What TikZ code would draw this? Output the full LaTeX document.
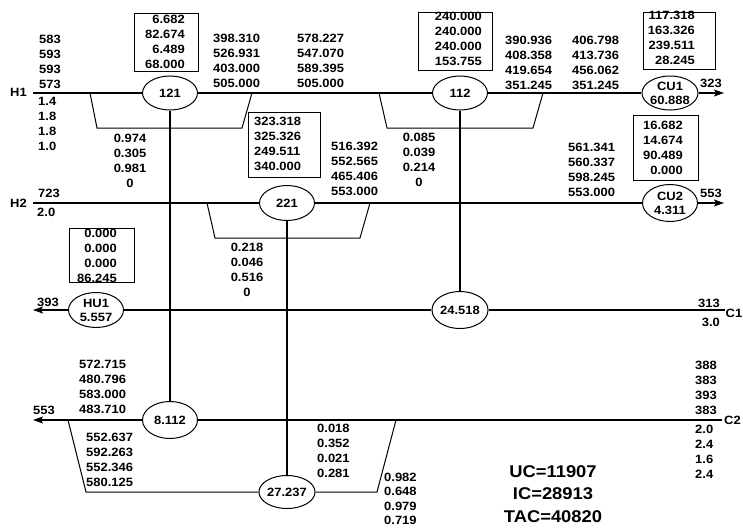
\documentclass[tikz,border=0pt]{standalone}
\usepackage{fontspec}
\setmainfont{Liberation Sans}[FakeStretch=1.08]
\usetikzlibrary{shapes.geometric,arrows.meta}
\begin{document}
\begin{tikzpicture}[x=1pt,y=-1pt,
  every node/.style={inner sep=0pt, font=\bfseries\fontsize{12}{15}\selectfont},
  ex/.style={draw, ellipse, line width=1pt, minimum width=55pt, minimum height=34pt, align=center, font=\bfseries\fontsize{12}{14}\selectfont},
  bx/.style={draw, line width=0.6pt, rectangle},
  main/.style={line width=1.3pt},
  byp/.style={line width=1pt},
  arr/.style={-{Stealth[length=10pt,width=7pt,inset=2pt]}},
  cost/.style={align=center, font=\bfseries\fontsize{17}{22.5}\selectfont}
]
\useasboundingbox (0,0) rectangle (743,527);

% ---- stream ends
\coordinate (h1s) at (33,93);  \coordinate (h1e) at (724,93);
\coordinate (h2s) at (33,203); \coordinate (h2e) at (724,203);
\coordinate (c1s) at (725,310); \coordinate (c1e) at (33,310);
\coordinate (c2s) at (722,420); \coordinate (c2e) at (33,420);

% ---- exchangers and utilities
\node[ex] (e121) at (170,93) {121};
\node[ex] (e112) at (460,93) {112};
\node[ex] (eCU1) at (670,93) {CU1\\60.888};
\node[ex, minimum height=35pt] (e221) at (287,203) {221};
\node[ex, minimum height=37pt] (eCU2) at (670,203) {CU2\\4.311};
\node[ex, minimum height=35pt] (eHU1) at (96,310) {HU1\\5.557};
\node[ex, minimum height=37pt] (e24) at (460,310) {24.518};
\node[ex, minimum height=37pt] (e8) at (170,420) {8.112};
\node[ex, minimum height=33pt] (e27) at (287,492) {27.237};

% ---- main stream lines
\draw[main] (h1s) -- (e121) -- (e112) -- (eCU1);
\draw[main,arr] (eCU1) -- (h1e);
\draw[main] (h2s) -- (e221) -- (eCU2);
\draw[main,arr] (eCU2) -- (h2e);
\draw[main] (c1s) -- (e24) -- (eHU1);
\draw[main,arr] (eHU1) -- (c1e);
\draw[main] (c2s) -- (e8);
\draw[main,arr] (e8) -- (c2e);

% ---- match verticals
\draw[main] (e121) -- (e8);
\draw[main] (e112) -- (e24);
\draw[main] (e221) -- (e27);

% ---- bypass branches
\coordinate (b1a) at (90,93);  \coordinate (b1b) at (97,128);
\coordinate (b1c) at (242,128); \coordinate (b1d) at (252,93);
\draw[byp] (b1a) -- (b1b) -- (b1c) -- (b1d);
\coordinate (b2a) at (379,93);  \coordinate (b2b) at (387,128);
\coordinate (b2c) at (533,128); \coordinate (b2d) at (543,93);
\draw[byp] (b2a) -- (b2b) -- (b2c) -- (b2d);
\coordinate (b3a) at (207,203); \coordinate (b3b) at (215,238);
\coordinate (b3c) at (360,238); \coordinate (b3d) at (370,203);
\draw[byp] (b3a) -- (b3b) -- (b3c) -- (b3d);
\coordinate (b4a) at (68,420);  \coordinate (b4b) at (86,492);
\coordinate (b4c) at (377,492); \coordinate (b4d) at (396,420);
\draw[byp] (b4a) -- (b4b) -- (e27) -- (b4c) -- (b4d);

% ---- boxes
\node[bx, minimum width=64pt, minimum height=58pt] (B121) at (166,42) {};
\node[bx, minimum width=74pt, minimum height=58pt] (B112) at (455,41) {};
\node[bx, minimum width=72pt, minimum height=57pt] (BCU1) at (679,40.5) {};
\node[bx, minimum width=72pt, minimum height=65pt] (B221) at (284,144.5) {};
\node[bx, minimum width=65pt, minimum height=65pt] (BCU2) at (665.5,147.5) {};
\node[bx, minimum width=65pt, minimum height=54pt] (BHU1) at (101.5,255) {};

% ---- box texts
\node[anchor=north east, align=right] (t121) at (185,14.7) {6.682\\82.674\\6.489\\68.000};
\node[anchor=north east, align=right] (t112) at (482,11.7) {240.000\\240.000\\240.000\\153.755};
\node[anchor=north east, align=right] (tCU1) at (695,10.7) {117.318\\163.326\\239.511\\28.245};
\node[anchor=north west, align=left] (t221) at (254,116.7) {323.318\\325.326\\249.511\\340.000};
\node[anchor=north east, align=right] (tCU2) at (683,120.7) {16.682\\14.674\\90.489\\0.000};
\node[anchor=north east, align=right] (tHU1) at (117,228.7) {0.000\\0.000\\0.000\\86.245};

% ---- stream labels
\node[anchor=east] (lH1) at (27,92.5) {H1};
\node[anchor=east] (lH2) at (27,203) {H2};
\node[anchor=west] (lC1) at (725.5,313) {C1};
\node[anchor=west] (lC2) at (724,420) {C2};

% ---- data groups
\node[anchor=north west, align=left] (g583) at (39,34.7) {583\\593\\593\\573};
\node[anchor=north west, align=left] (g14) at (38,96.7) {1.4\\1.8\\1.8\\1.0};
\node[anchor=north west, align=left] (g398) at (213,33.7) {398.310\\526.931\\403.000\\505.000};
\node[anchor=north west, align=left] (g578) at (297,33.7) {578.227\\547.070\\589.395\\505.000};
\node[anchor=north west, align=left] (g390) at (505,35.7) {390.936\\408.358\\419.654\\351.245};
\node[anchor=north west, align=left] (g406) at (572,36.2) {406.798\\413.736\\456.062\\351.245};
\node[anchor=west] (l323) at (700,83) {323};
\node[anchor=north, align=center] (g0974) at (130,133.7) {0.974\\0.305\\0.981\\0};
\node[anchor=north west, align=left] (g516) at (331,141.7) {516.392\\552.565\\465.406\\553.000};
\node[anchor=north, align=center] (g0085) at (419,132.7) {0.085\\0.039\\0.214\\0};
\node[anchor=north west, align=left] (g561) at (568,142.7) {561.341\\560.337\\598.245\\553.000};
\node[anchor=west] (l723) at (38,193) {723};
\node[anchor=west] (l20) at (37,212) {2.0};
\node[anchor=west] (l553a) at (700,193) {553};
\node[anchor=north, align=center] (g0218) at (247,242.7) {0.218\\0.046\\0.516\\0};
\node[anchor=west] (l393) at (37,302) {393};
\node[anchor=east] (l313) at (720,303) {313};
\node[anchor=east] (l30) at (720,322) {3.0};
\node[anchor=north west, align=left] (g572) at (79,359.7) {572.715\\480.796\\583.000\\483.710};
\node[anchor=west] (l553b) at (33,410) {553};
\node[anchor=north west, align=left] (g552) at (86,432.7) {552.637\\592.263\\552.346\\580.125};
\node[anchor=north west, align=left] (g0018) at (317,423.7) {0.018\\0.352\\0.021\\0.281};
\node[anchor=north west, align=left, font=\bfseries\fontsize{12}{14.6}\selectfont] (g0982) at (384,472.5) {0.982\\0.648\\0.979\\0.719};
\node[anchor=north west, align=left] (g388) at (695,360.7) {388\\383\\393\\383};
\node[anchor=north west, align=left] (g2024) at (695,424.7) {2.0\\2.4\\1.6\\2.4};

% ---- costs
\node[cost, anchor=north] (cost) at (553,465) {UC=11907\\IC=28913\\TAC=40820};
\end{tikzpicture}
\end{document}
